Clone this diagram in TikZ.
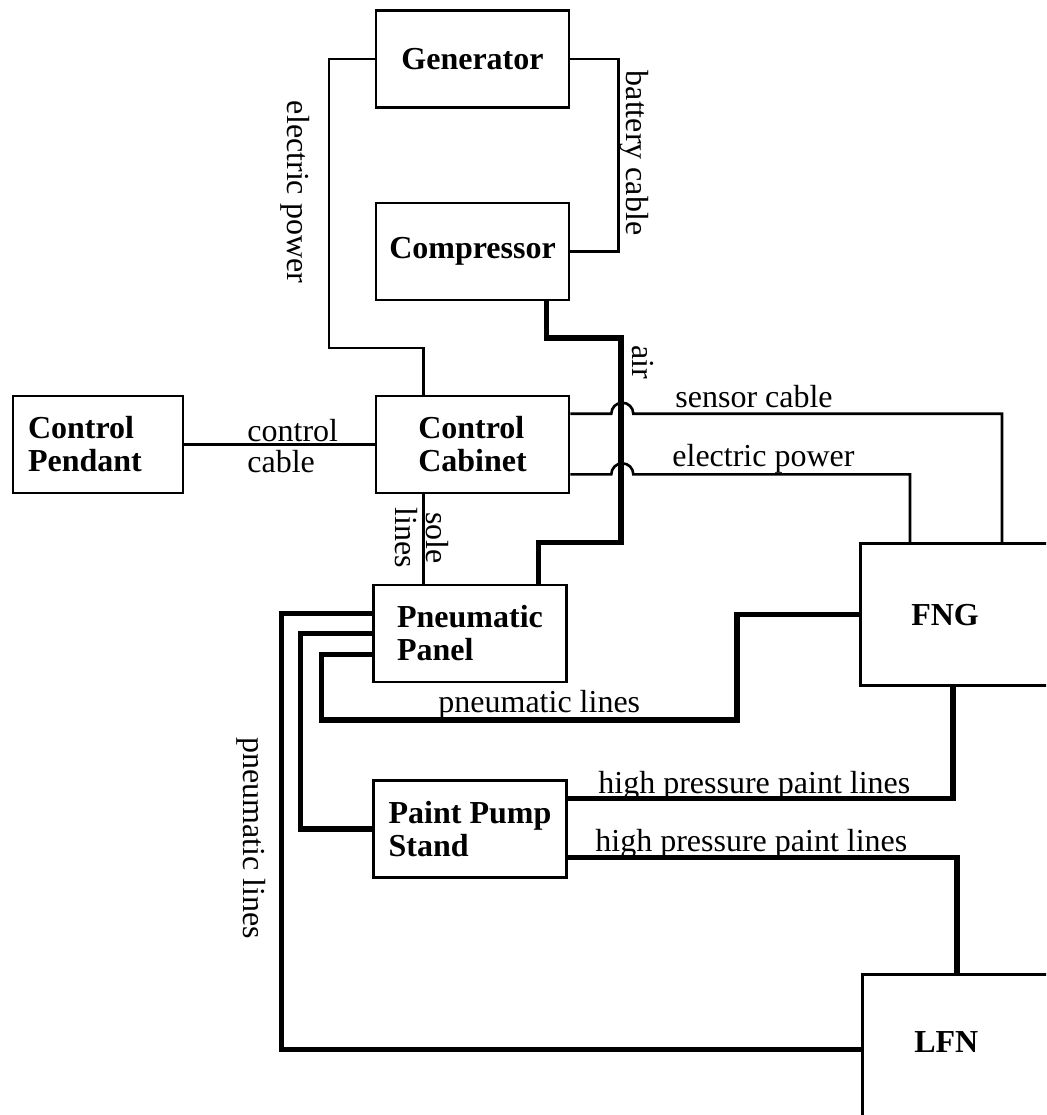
\documentclass[tikz,border=0pt]{standalone}
\usepackage{fontspec}
\setmainfont{Liberation Serif}
\usetikzlibrary{calc}
\begin{document}
\begin{tikzpicture}[x=0.5pt,y=-0.5pt]
		\tikzstyle{unit}=[draw,line width=1.3pt,minimum width=96.5pt,minimum height=48.5pt,inner sep=0pt,align=left,font=\fontsize{16}{16.5}\selectfont\bfseries]
		\tikzstyle{site}=[draw,line width=1.3pt,anchor=north west,align=left,text width=60pt,text height=11pt,font=\fontsize{16}{16.5}\selectfont\bfseries]
		\tikzstyle{note}=[inner sep=0pt,align=left,font=\fontsize{16}{15.5}\selectfont]
		\tikzstyle{cable}=[line width=1.3pt]
		\tikzstyle{hose}=[line width=2.6pt]
		
		\clip (0,0) rectangle (1046,1115);
		
		\node (gen) at (472.5,59) [unit] {Generator};
		\node (comp) at (472.5,251.5) [unit] {Compressor};
		\node (cab) at (472.5,444.5) [unit] {Control\\Cabinet};
		\node (pend) at (98,444.5) [unit, minimum width=85pt, text width=70pt, inner xsep=7.5pt] {Control\\Pendant};
		\node (pnp) at (470,633.5) [unit] {Pneumatic\\Panel};
		\node (pps) at (470,829) [unit] {Paint Pump\\Stand};
		\node (fng) at (859,542) [site, inner xsep=25.5pt, inner ysep=30pt, text depth=0pt] {FNG};
		\node (lfn) at (861,973) [site, inner xsep=26pt, inner ysep=28pt, text depth=8pt] {LFN};
		
		\draw[cable] (gen.east) -- ++(48,0) |- (comp.east);
		\draw[cable] (gen.west) -| (329,348) -| ($(cab.north west)!.25!(cab.north east)$);
		\draw[cable] (pend.east) -- (cab.west);
		\draw[cable] ($(cab.south west)!.25!(cab.south east)$) coordinate (sole) -- (sole |- pnp.north);
		\draw[cable] ($(cab.north east)+(0,19)$) -- ++(41,0) arc[start angle=180,end angle=360,radius=11] -| ($(fng.north west)+(143,0)$);
		\draw[cable] ($(cab.south east)+(0,-20)$) -- ++(41,0) arc[start angle=180,end angle=360,radius=11] -| ($(fng.north west)+(51,0)$);
		
		\draw[hose] ($(comp.south west)!.88!(comp.south east)$) |- (621,338) |- ($(pnp.north west)!.85!(pnp.north east)+(0,-41)$) -- ($(pnp.north west)!.85!(pnp.north east)$);
		\draw[hose] ($(pnp.north west)+(0,30)$) -- ++(-91,0) |- (lfn.west);
		\draw[hose] ($(pnp.north west)+(0,50)$) -- ++(-72,0) |- (pps.west);
		\draw[hose] ($(pnp.north west)+(0,71)$) -- ++(-51,0) |- (737,720) |- (fng.west);
		\draw[hose] ($(pps.north east)+(0,19)$) -| ($(fng.south west)+(94,0)$);
		\draw[hose] ($(pps.north east)+(0,78)$) -| ($(lfn.north west)+(96,0)$);
		
		\node (lbatt) at (634,153) [note, rotate=-90] {battery cable};
		\node (lpow) at (295,192) [note, rotate=-90] {electric power};
		\node (lair) at (643,362) [note, rotate=-90] {air};
		\node (lctl) at (247,446) [note, anchor=west] {control\\cable};
		\node (lsole) at (422,538) [note, rotate=-90, align=center] {sole\\lines};
		\node (lsens) at (675,407) [note, anchor=base west] {sensor cable};
		\node (lelec) at (672,466) [note, anchor=base west] {electric power};
		\node (lpn) at (438,712) [note, anchor=base west] {pneumatic lines};
		\node (lhp1) at (598,793) [note, anchor=base west] {high pressure paint lines};
		\node (lhp2) at (595,851) [note, anchor=base west] {high pressure paint lines};
		\node (lpn2) at (251,838) [note, rotate=-90] {pneumatic lines};
		
\end{tikzpicture}
\end{document}
